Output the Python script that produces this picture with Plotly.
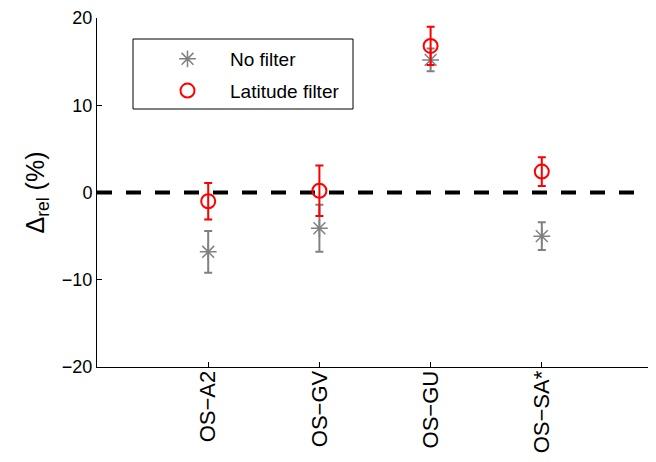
import plotly.graph_objects as go

categories = ["OS−A2", "OS−GV", "OS−GU", "OS−SA*"]
positions = [1, 2, 3, 4]
nofilter_vals = [-6.8, -4.1, 15.2, -5.0]
nofilter_err = [2.4, 2.7, 1.3, 1.6]
latitude_vals = [-1.0, 0.2, 16.8, 2.4]
latitude_err = [2.1, 2.9, 2.2, 1.65]
y_ticks = [-20, -10, 0, 10, 20]

GRAY = "#808080"
RED = "#ff0000"
FONT = "Liberation Sans"

fig = go.Figure()

fig.add_shape(type="line", xref="paper", yref="y", x0=0, x1=1, y0=0, y1=0,
              line=dict(color="black", width=4, dash="15px,14px"), layer="below")

fig.add_trace(go.Scatter(
    x=positions, y=nofilter_vals, mode="markers", name="No filter",
    legendgroup="a",
    marker=dict(symbol="asterisk-open", size=14, color=GRAY,
                line=dict(color=GRAY, width=1.5)),
    error_y=dict(type="data", array=nofilter_err, color=GRAY, thickness=2, width=4),
))
fig.add_trace(go.Scatter(
    x=positions, y=latitude_vals, mode="markers", name="Latitude filter",
    legendgroup="b",
    marker=dict(symbol="circle-open", size=14, color=RED,
                line=dict(color=RED, width=2)),
    error_y=dict(type="data", array=latitude_err, color=RED, thickness=2, width=4),
))

# legend frame
fig.add_shape(type="rect", xref="paper", yref="paper",
              x0=(133 - 97) / 556, x1=(353 - 97) / 556,
              y0=(367 - 109) / 349, y1=(367 - 39) / 349,
              line=dict(color="black", width=1), fillcolor="white", layer="below")

fig.update_layout(
    width=648, height=454,
    margin=dict(l=89, r=3, t=10, b=95, autoexpand=False),
    paper_bgcolor="white", plot_bgcolor="white",
    font=dict(family=FONT, color="black", size=17),
    showlegend=True,
    legend=dict(x=(145 - 97) / 556, y=(367 - 40) / 349, xanchor="left", yanchor="top",
                bgcolor="rgba(0,0,0,0)", borderwidth=0,
                font=dict(family=FONT, size=19), tracegroupgap=4,
                itemwidth=75),
    xaxis=dict(range=[0, 5], tickvals=positions, ticktext=categories,
               tickangle=-90, ticks="inside", ticklen=5, tickcolor="black",
               ticklabelstandoff=-6,
               showline=True, linecolor="black", linewidth=1,
               showgrid=False, zeroline=False, automargin=False,
               tickfont=dict(family=FONT, size=22)),
    yaxis=dict(range=[-20, 20], tickvals=y_ticks,
               ticks="inside", ticklen=5, tickcolor="black",
               showline=True, linecolor="black", linewidth=1,
               showgrid=False, zeroline=False, automargin=False,
               tickfont=dict(family=FONT, size=18),
               title=dict(text="Δ<sub>rel</sub> (%)", font=dict(family=FONT, size=25),
                          standoff=10)),
)

fig.write_html("out.html")
